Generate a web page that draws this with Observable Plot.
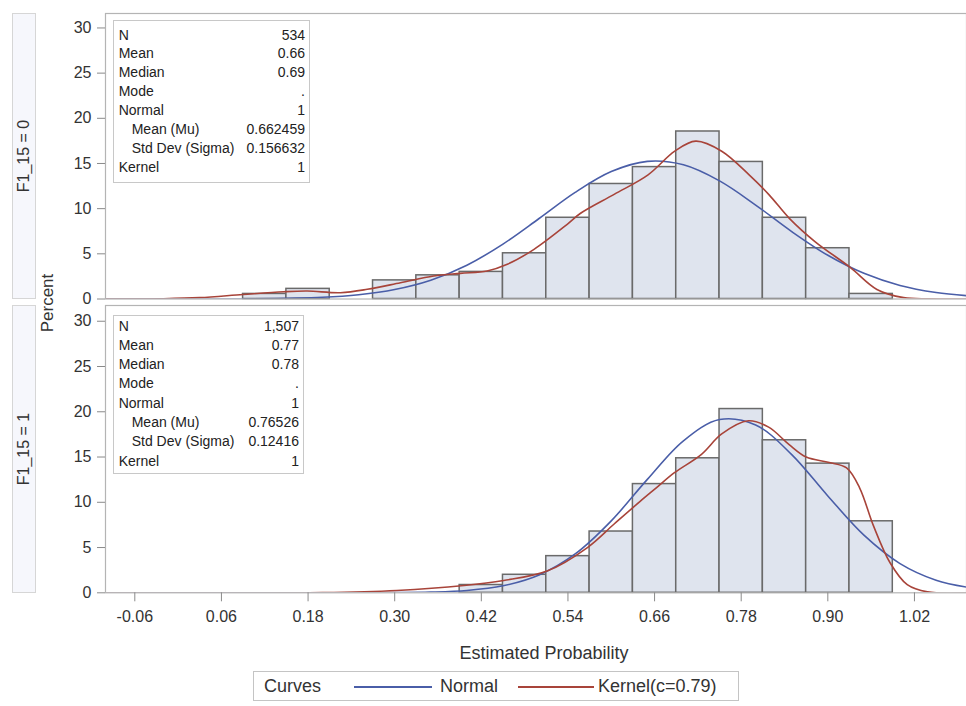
<!DOCTYPE html>
<html>
<head>
<meta charset="utf-8">
<script src="https://cdn.jsdelivr.net/npm/d3@7"></script>
<script src="https://cdn.jsdelivr.net/npm/@observablehq/plot@0.6"></script>
<style>
  html, body { margin: 0; padding: 0; background: #fff; }
  #wrap { position: relative; width: 966px; height: 706px; overflow: hidden;
          font-family: "Liberation Sans", Arial, sans-serif; color: #333; }
  .abs { position: absolute; }
  .strip { position: absolute; left: 12px; width: 24px; background: #f6f7fc;
           border: 1px solid #d6d6d6; box-sizing: border-box; }
  .strip span { position: absolute; left: 50%; top: 50%; white-space: nowrap;
                transform: translate(-50%, -50%) rotate(-90deg); font-size: 16px; color: #333; }
  .inset { position: absolute; background: #fff; border: 1px solid #c8c8c8; box-sizing: border-box;
           font-size: 14px; color: #222; }
  .row { position: relative; height: 19px; line-height: 19px; }
  .row .l { position: absolute; left: 5px; white-space: nowrap; }
  .row .l.ind { left: 18px; }
  .row .v { position: absolute; right: 4px; white-space: nowrap; }
  .legend { position: absolute; left: 253px; top: 671px; width: 486px; height: 30px;
            border: 1px solid #c4c4c4; box-sizing: border-box; font-size: 18px; color: #333; }
  .legend .t { position: absolute; top: 50%; transform: translateY(-50%); white-space: nowrap; }
  .legend .sw { position: absolute; top: 14px; height: 0; border-top: 2px solid; }
</style>
</head>
<body>
<div id="wrap"></div>
<script>
// ---------- data ----------
const binCenters0 = [0.12, 0.18, 0.24, 0.30, 0.36, 0.42, 0.48, 0.54, 0.60, 0.66, 0.72, 0.78, 0.84, 0.90, 0.96];
const percent0    = [0.56, 1.12, 0.00, 2.06, 2.62, 3.00, 5.06, 8.99, 12.73, 14.60, 18.54, 15.17, 8.99, 5.62, 0.56];

const binCenters1 = [0.42, 0.48, 0.54, 0.60, 0.66, 0.72, 0.78, 0.84, 0.90, 0.96];
const percent1    = [0.86, 1.99, 4.05, 6.77, 12.01, 14.86, 20.30, 16.85, 14.27, 7.90];

const binWidth = 0.06;

const normalX  = [-0.10, 0.00, 0.10, 0.20, 0.25, 0.30, 0.35, 0.40, 0.45, 0.50, 0.55, 0.60, 0.65, 0.70, 0.75, 0.80, 0.85, 0.90, 0.95, 1.00, 1.05, 1.092];
const normal0Y = [0.000, 0.002, 0.024, 0.195, 0.476, 1.05, 2.08, 3.74, 6.08, 8.91, 11.80, 14.10, 15.23, 14.85, 13.07, 10.40, 7.46, 4.84, 2.84, 1.50, 0.72, 0.37];
const normal1Y = [0.000, 0.000, 0.000, 0.001, 0.004, 0.017, 0.072, 0.255, 0.77, 1.97, 4.29, 7.95, 12.53, 16.79, 19.14, 18.54, 15.27, 10.70, 6.37, 3.23, 1.39, 0.63];

const kernel0X = [-0.10, -0.02, 0.03, 0.09, 0.146, 0.179, 0.225, 0.262, 0.308, 0.354, 0.391, 0.428, 0.456, 0.493, 0.539, 0.557, 0.604, 0.651, 0.688, 0.717, 0.753, 0.791, 0.819, 0.847, 0.883, 0.931, 0.968, 1.005, 1.040, 1.092];
const kernel0Y = [0.00, 0.03, 0.15, 0.50, 0.80, 0.88, 0.70, 1.07, 1.80, 2.55, 2.84, 3.10, 3.84, 5.50, 8.27, 9.46, 11.58, 13.74, 16.36, 17.47, 16.36, 13.74, 11.50, 8.90, 6.30, 3.50, 1.06, 0.15, 0.02, 0.00];

const kernel1X = [-0.10, 0.20, 0.303, 0.396, 0.451, 0.511, 0.567, 0.604, 0.640, 0.664, 0.687, 0.725, 0.753, 0.790, 0.818, 0.846, 0.870, 0.902, 0.926, 0.944, 0.963, 0.986, 1.010, 1.038, 1.092];
const kernel1Y = [0.00, 0.02, 0.25, 0.80, 1.36, 2.40, 5.00, 7.60, 10.10, 11.70, 13.24, 15.30, 17.55, 19.00, 18.30, 16.40, 15.00, 14.40, 13.80, 11.60, 7.45, 3.35, 0.90, 0.10, 0.00];

const yTicks = [0, 5, 10, 15, 20, 25, 30];
const xTicks = [-0.06, 0.06, 0.18, 0.30, 0.42, 0.54, 0.66, 0.78, 0.90, 1.02];

const stripLabels = ["F1_15 = 0", "F1_15 = 1"];
const statLabels = ["N", "Mean", "Median", "Mode", "Normal", "Mean (Mu)", "Std Dev (Sigma)", "Kernel"];
const stats0 = ["534", "0.66", "0.69", ".", "1", "0.662459", "0.156632", "1"];
const stats1 = ["1,507", "0.77", "0.78", ".", "1", "0.76526", "0.12416", "1"];

const xLabel = "Estimated Probability";
const yLabel = "Percent";
const legendTitle = "Curves";
const legendItems = ["Normal", "Kernel(c=0.79)"];

// ---------- styles ----------
const BLUE = "#4a5ea8";
const RED = "#a8443a";
const BAR_FILL = "#dfe4ee";
const BAR_STROKE = "#6a6a6a";
const FRAME = "#b4b4b4";
const xDomain = [-0.1006, 1.0921];

function bins(centers, pcts) {
  return centers.map((c, i) => ({x1: c - binWidth / 2, x2: c + binWidth / 2, y: pcts[i]}));
}
function pts(xs, ys) { return xs.map((x, i) => ({x, y: ys[i]})); }

function panel(bars, normal, kernel, opts) {
  const marks = [
    Plot.rect(bars, {x1: "x1", x2: "x2", y1: 0, y2: "y", fill: BAR_FILL, stroke: BAR_STROKE, strokeWidth: 1.5}),
    Plot.line(normal, {x: "x", y: "y", stroke: BLUE, strokeWidth: 1.6, curve: "catmull-rom", clip: true}),
    Plot.line(kernel, {x: "x", y: "y", stroke: RED, strokeWidth: 1.6, curve: "catmull-rom", clip: true}),
    Plot.frame({stroke: FRAME, strokeWidth: 1.2}),
    Plot.axisY({ticks: yTicks, tickSize: 8, tickPadding: 6, fontSize: 16, stroke: "#8a8a8a", fill: "#333", label: null})
  ];
  if (opts.xAxis) {
    marks.push(Plot.axisX({ticks: xTicks, tickSize: 9, tickPadding: 9, fontSize: 16, stroke: "#8a8a8a", fill: "#333",
      tickFormat: d => d.toFixed(2), label: null}));
  }
  return Plot.plot({
    width: 966, height: opts.height,
    marginLeft: 105, marginRight: 0, marginTop: opts.mt, marginBottom: opts.mb,
    x: {domain: xDomain, axis: opts.xAxis ? undefined : null},
    y: {domain: opts.yDomain},
    style: {fontFamily: "'Liberation Sans', Arial, sans-serif", background: "transparent", overflow: "visible", color: "#333"},
    marks
  });
}

const wrap = document.getElementById("wrap");

const p0 = panel(bins(binCenters0, percent0), pts(normalX, normal0Y), pts(kernel0X, kernel0Y),
  {height: 300, mt: 13, mb: 1.5, yDomain: [0, 31.6], xAxis: false});
p0.style.position = "absolute"; p0.style.left = "0px"; p0.style.top = "0px";
wrap.appendChild(p0);

const p1 = panel(bins(binCenters1, percent1), pts(normalX, normal1Y), pts(kernel1X, kernel1Y),
  {height: 333, mt: 5, mb: 40.7, yDomain: [0, 31.74], xAxis: true});
p1.style.position = "absolute"; p1.style.left = "0px"; p1.style.top = "300px";
wrap.appendChild(p1);

// strips
[[13, 286], [305, 288]].forEach(([top, h], i) => {
  const s = document.createElement("div");
  s.className = "strip";
  s.style.top = top + "px"; s.style.height = h + "px";
  const sp = document.createElement("span"); sp.textContent = stripLabels[i];
  s.appendChild(sp); wrap.appendChild(s);
});

// y label
const yl = document.createElement("div");
yl.className = "abs";
yl.style.cssText = "left:48px;top:303px;transform:translate(-50%,-50%) rotate(-90deg);font-size:17px;white-space:nowrap;color:#333;";
yl.textContent = yLabel;
wrap.appendChild(yl);

// insets
function inset(left, top, width, height, padTop, rowH, values) {
  const b = document.createElement("div");
  b.className = "inset";
  b.style.left = left + "px"; b.style.top = top + "px";
  b.style.width = width + "px"; b.style.height = height + "px";
  b.style.paddingTop = padTop + "px";
  statLabels.forEach((lab, i) => {
    const r = document.createElement("div"); r.className = "row"; r.style.height = rowH + "px"; r.style.lineHeight = rowH + "px";
    const l = document.createElement("span"); l.className = "l" + (i === 5 || i === 6 ? " ind" : ""); l.textContent = lab;
    const v = document.createElement("span"); v.className = "v"; v.textContent = values[i];
    r.appendChild(l); r.appendChild(v); b.appendChild(r);
  });
  wrap.appendChild(b);
}
inset(112.7, 20, 197.3, 163, 4.5, 18.9, stats0);
inset(112.7, 315, 191.3, 159, 0.5, 19.3, stats1);

// x label
const xl = document.createElement("div");
xl.className = "abs";
xl.style.cssText = "left:544px;top:653px;transform:translate(-50%,-50%);font-size:18px;white-space:nowrap;color:#333;";
xl.textContent = xLabel;
wrap.appendChild(xl);

// legend
const lg = document.createElement("div");
lg.className = "legend";
const base = 253;
function addText(txt, x) { const t = document.createElement("span"); t.className = "t"; t.style.left = (x - base) + "px"; t.textContent = txt; lg.appendChild(t); }
function addSw(color, x, w) { const s = document.createElement("span"); s.className = "sw"; s.style.left = (x - base) + "px"; s.style.width = w + "px"; s.style.borderTopColor = color; lg.appendChild(s); }
addText(legendTitle, 263);
addSw(BLUE, 353, 78);
addText(legendItems[0], 439);
addSw(RED, 517, 76);
addText(legendItems[1], 597);
wrap.appendChild(lg);
</script>
</body>
</html>
